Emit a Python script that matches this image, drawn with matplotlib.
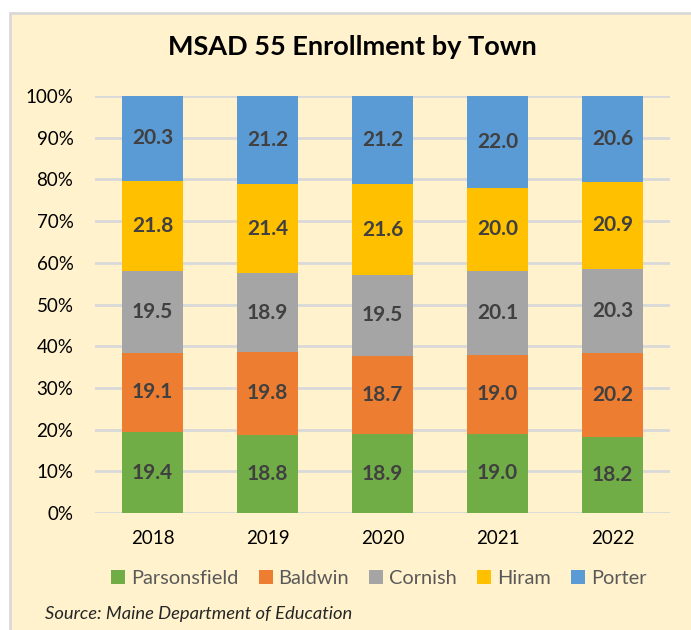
import matplotlib.pyplot as plt
from matplotlib.patches import Rectangle
from numpy import array, arange

plt.rcParams['font.family'] = ['Lato', 'DejaVu Sans']

years = ['2018', '2019', '2020', '2021', '2022']
towns = ['Parsonsfield', 'Baldwin', 'Cornish', 'Hiram', 'Porter']
parsonsfield = [19.4, 18.8, 18.9, 19.0, 18.2]
baldwin = [19.1, 19.8, 18.7, 19.0, 20.2]
cornish = [19.5, 18.9, 19.5, 20.1, 20.3]
hiram = [21.8, 21.4, 21.6, 20.0, 20.9]
porter = [20.3, 21.2, 21.2, 22.0, 20.6]
colors = ['#70AD47', '#ED7D31', '#A5A5A5', '#FFC000', '#5B9BD5']

BG = '#FFF2CC'

fig = plt.figure(figsize=(6.91, 6.30), dpi=100, facecolor='white')
# chart frame (cropped on the right / bottom)
fig.patches.append(Rectangle((10 / 691, -0.05), 1.0, 0.05 + 1 - 13 / 630, transform=fig.transFigure,
                             facecolor=BG, edgecolor='#D9D9D9', linewidth=2, zorder=-5))

ax = fig.add_axes([95 / 691, 1 - 513 / 630, 575 / 691, 417 / 630])
ax.set_facecolor(BG)

series = array([parsonsfield, baldwin, cornish, hiram, porter])
shares = series / series.sum(axis=0) * 100  # 100% stacked
x = arange(len(years))
bottom = [0.0] * len(years)
for name, vals, share, color in zip(towns, series, shares, colors):
    ax.bar(x, share, 0.53, bottom=bottom, color=color, label=name, zorder=3)
    for xi, b, s, v in zip(x, bottom, share, vals):
        ax.text(xi, b + s / 2, f'{v:.1f}', ha='center', va='center', fontsize=15,
                fontweight='bold', color='#404040', zorder=4)
    bottom = [b + s for b, s in zip(bottom, share)]

ax.set_xlim(-0.5, len(years) - 0.5)
ax.set_ylim(0, 100)
ax.set_yticks(range(0, 101, 10))
ax.set_yticklabels([f'{v}%' for v in range(0, 101, 10)])
ax.set_xticks(x)
ax.set_xticklabels(years)
ax.tick_params(axis='both', length=0, labelsize=13.5, colors='black')
ax.tick_params(axis='y', pad=15.5)
ax.tick_params(axis='x', pad=12)
ax.yaxis.grid(True, color='#D9D9D9', linewidth=2, zorder=0)
ax.set_axisbelow(True)
for s in ax.spines.values():
    s.set_visible(False)

fig.text(0.51, 1 - 47 / 630, 'MSAD 55 Enrollment by Town', ha='center', va='center',
         fontsize=19.5, fontweight='bold', color='black')

leg = fig.legend(loc='center', bbox_to_anchor=(0.548, 1 - 578 / 630), ncol=5, frameon=False,
                 fontsize=14.4, handlelength=0.7, handleheight=0.7, handletextpad=0.3,
                 columnspacing=1.0, labelcolor='#595959')

fig.text(45 / 691, 1 - 614 / 630, 'Source: Maine Department of Education', ha='left', va='center',
         fontsize=13.2, fontstyle='italic', color='#262626')

fig.savefig('out.png', dpi=100, facecolor=fig.get_facecolor())
